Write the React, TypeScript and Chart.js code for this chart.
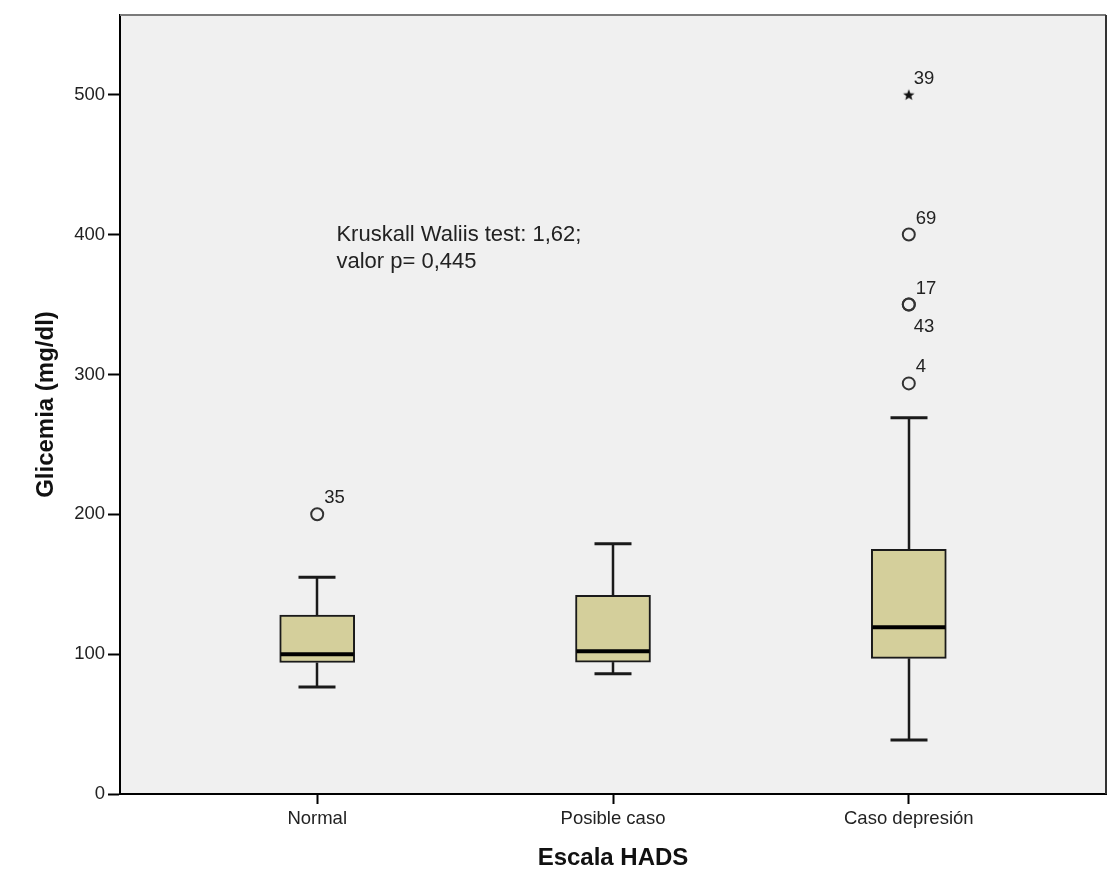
import { useEffect, useRef } from "react";
import { Chart, registerables } from "chart.js";

Chart.register(...registerables);

// ---- data ----
const categories = ["Normal", "Posible caso", "Caso depresión"];
const positions = [1, 2, 3];
const whiskerLow = [76.5, 86, 38.6];
const q1 = [94, 94.3, 97];
const median = [100, 102, 119.3];
const q3 = [128, 142, 175];
const whiskerHigh = [155, 179, 269];

const outlierGroup = [1, 3, 3, 3, 3];
const outlierValues = [200, 293.6, 350, 350, 400];
const outlierIds = ["35", "4", "17", "43", "69"];

const extremeGroup = [3];
const extremeValues = [500];
const extremeIds = ["39"];

const yTicks = [0, 100, 200, 300, 400, 500];
const annotationLines = ["Kruskall Waliis test: 1,62;", "valor p= 0,445"];

// ---- style constants ----
const FONT = "'Liberation Sans', Arial, Helvetica, sans-serif";
const BOX_FILL = "#d4cf9b";
const INK = "#1a1a1a";
const CAP_WIDTH = 37;
const BOX_WIDTH = 75;
const X_MIN = 1 / 3;
const X_MAX = 11 / 3;
const Y_MAX = 557;
const ANNOT_X = 1.065;
const ANNOT_Y = 400;
const labelsBelow = new Set(["43"]);

function makeStar(): HTMLCanvasElement {
  const c = document.createElement("canvas");
  c.width = 14;
  c.height = 14;
  const g = c.getContext("2d")!;
  const cx = 7, cy = 7.5, R = 6, r = 2.6;
  g.fillStyle = "#111";
  g.beginPath();
  for (let k = 0; k < 10; k++) {
    const ang = -Math.PI / 2 + (k * Math.PI) / 5;
    const rad = k % 2 === 0 ? R : r;
    const px = cx + rad * Math.cos(ang);
    const py = cy + rad * Math.sin(ang);
    if (k === 0) g.moveTo(px, py);
    else g.lineTo(px, py);
  }
  g.closePath();
  g.fill();
  return c;
}

const bgPlugin = {
  id: "plotBg",
  beforeDraw(chart: any) {
    const { ctx, chartArea: a } = chart;
    ctx.save();
    ctx.fillStyle = "#ffffff";
    ctx.fillRect(0, 0, chart.width, chart.height);
    ctx.fillStyle = "#f0f0f0";
    ctx.fillRect(a.left, a.top, a.right - a.left, a.bottom - a.top);
    ctx.restore();
  },
  afterDraw(chart: any) {
    const { ctx, chartArea: a } = chart;
    ctx.save();
    ctx.lineWidth = 2;
    ctx.strokeStyle = "#7a7a7a";
    ctx.beginPath();
    ctx.moveTo(a.left, a.top);
    ctx.lineTo(a.right, a.top);
    ctx.stroke();
    ctx.strokeStyle = "#333333";
    ctx.beginPath();
    ctx.moveTo(a.right, a.top);
    ctx.lineTo(a.right, a.bottom);
    ctx.stroke();
    ctx.restore();
  },
};

const boxPartsPlugin = {
  id: "boxParts",
  afterDatasetsDraw(chart: any) {
    const { ctx } = chart;
    const xs = chart.scales.x;
    const ys = chart.scales.y;
    const meta = chart.getDatasetMeta(0);
    ctx.save();
    ctx.strokeStyle = INK;
    const line = (x1: number, y1: number, x2: number, y2: number) => {
      ctx.beginPath();
      ctx.moveTo(x1, y1);
      ctx.lineTo(x2, y2);
      ctx.stroke();
    };
    positions.forEach((p, i) => {
      const px = Math.round(xs.getPixelForValue(p));
      ctx.lineWidth = 2.5;
      ctx.lineCap = "butt";
      line(px, ys.getPixelForValue(q3[i]), px, ys.getPixelForValue(whiskerHigh[i]));
      line(px, ys.getPixelForValue(q1[i]), px, ys.getPixelForValue(whiskerLow[i]));
      ctx.lineWidth = 3;
      const yh = ys.getPixelForValue(whiskerHigh[i]);
      const yl = ys.getPixelForValue(whiskerLow[i]);
      line(px - CAP_WIDTH / 2, yh, px + CAP_WIDTH / 2, yh);
      line(px - CAP_WIDTH / 2, yl, px + CAP_WIDTH / 2, yl);
      const bar = meta.data[i];
      const half = bar ? bar.width / 2 : BOX_WIDTH / 2;
      ctx.lineWidth = 4;
      const ym = ys.getPixelForValue(median[i]);
      ctx.strokeStyle = "#000";
      line(bar.x - half + 1, ym, bar.x + half - 1, ym);
      ctx.strokeStyle = INK;
    });
    ctx.restore();
  },
};

const labelsPlugin = {
  id: "pointLabels",
  afterDatasetsDraw(chart: any) {
    const { ctx } = chart;
    const xs = chart.scales.x;
    const ys = chart.scales.y;
    ctx.save();
    ctx.fillStyle = "#222";
    ctx.font = `18.5px ${FONT}`;
    ctx.textAlign = "left";
    ctx.textBaseline = "alphabetic";
    const draw = (g: number, v: number, id: string, isStar: boolean) => {
      const px = xs.getPixelForValue(g);
      const py = ys.getPixelForValue(v);
      if (labelsBelow.has(id)) {
        ctx.fillText(id, px + 5, py + 27);
      } else {
        ctx.fillText(id, px + (isStar ? 5 : 7), py - 11);
      }
    };
    outlierIds.forEach((id, i) => draw(outlierGroup[i], outlierValues[i], id, false));
    extremeIds.forEach((id, i) => draw(extremeGroup[i], extremeValues[i], id, true));

    // annotation text
    ctx.font = `22px ${FONT}`;
    ctx.textBaseline = "middle";
    const ax = xs.getPixelForValue(ANNOT_X);
    const ay = ys.getPixelForValue(ANNOT_Y);
    annotationLines.forEach((t, i) => ctx.fillText(t, ax, ay + i * 27));
    ctx.restore();
  },
};

export default function App() {
  const ref = useRef<HTMLCanvasElement | null>(null);
  useEffect(() => {
    if (!ref.current) return;
    const star = makeStar();
    const chart = new Chart(ref.current, {
      type: "bar",
      data: {
        datasets: [
          {
            type: "bar",
            data: positions.map((p, i) => ({ x: p, y: [q1[i], q3[i]] })) as any,
            backgroundColor: BOX_FILL,
            borderColor: INK,
            borderWidth: 2,
            borderSkipped: false,
            barThickness: BOX_WIDTH,
            order: 2,
          } as any,
          {
            type: "scatter",
            data: outlierGroup.map((g, i) => ({ x: g, y: outlierValues[i] })),
            pointStyle: "circle",
            pointRadius: 6,
            pointBorderWidth: 2,
            borderColor: "#333",
            backgroundColor: "rgba(0,0,0,0)",
            order: 1,
          } as any,
          {
            type: "scatter",
            data: extremeGroup.map((g, i) => ({ x: g, y: extremeValues[i] })),
            pointStyle: star,
            pointRadius: 7,
            order: 1,
          } as any,
        ],
      },
      options: {
        animation: false,
        responsive: false,
        events: [],
        layout: { padding: { top: 15, right: 5, left: 0, bottom: 0 } },
        plugins: { legend: { display: false }, tooltip: { enabled: false }, title: { display: false } },
        scales: {
          x: {
            type: "linear",
            min: X_MIN,
            max: X_MAX,
            offset: false,
            grid: {
              offset: false,
              drawOnChartArea: false,
              drawTicks: true,
              tickLength: 10,
              tickColor: "#000",
              tickWidth: 2,
            },
            border: { display: true, color: "#000", width: 2 },
            afterBuildTicks: (s: any) => {
              s.ticks = positions.map((v) => ({ value: v }));
            },
            afterFit: (s: any) => {
              s.height = 81;
              s.paddingLeft = 0;
              s.paddingRight = 0;
            },
            ticks: {
              autoSkip: false,
              maxRotation: 0,
              padding: 4,
              color: "#222",
              font: { family: FONT, size: 18.5 },
              callback: (v: any) => {
                const idx = positions.indexOf(Number(v));
                return idx >= 0 ? categories[idx] : "";
              },
            },
            title: {
              display: true,
              text: "Escala HADS",
              color: "#111",
              font: { family: FONT, size: 24, weight: "bold" },
              padding: { top: 0, bottom: 2 },
            },
          } as any,
          y: {
            type: "linear",
            min: 0,
            max: Y_MAX,
            grid: {
              drawOnChartArea: false,
              drawTicks: true,
              tickLength: 12,
              tickColor: "#000",
              tickWidth: 2,
            },
            border: { display: true, color: "#000", width: 2 },
            afterBuildTicks: (s: any) => {
              s.ticks = yTicks.map((v) => ({ value: v }));
            },
            afterFit: (s: any) => {
              s.width = 120;
              s.paddingTop = 0;
              s.paddingBottom = 0;
            },
            ticks: {
              padding: 3,
              color: "#222",
              font: { family: FONT, size: 18.5 },
            },
            title: {
              display: true,
              text: "Glicemia (mg/dl)",
              color: "#111",
              font: { family: FONT, size: 24, weight: "bold" },
              padding: { top: 32, bottom: 0 },
            },
          } as any,
        },
      },
      plugins: [bgPlugin, boxPartsPlugin, labelsPlugin],
    });
    return () => chart.destroy();
  }, []);

  return (
    <div style={{ position: "fixed", left: 0, top: 0, width: 1114, height: 875, background: "#fff" }}>
      <canvas ref={ref} width={1114} height={875} style={{ display: "block" }} />
    </div>
  );
}
